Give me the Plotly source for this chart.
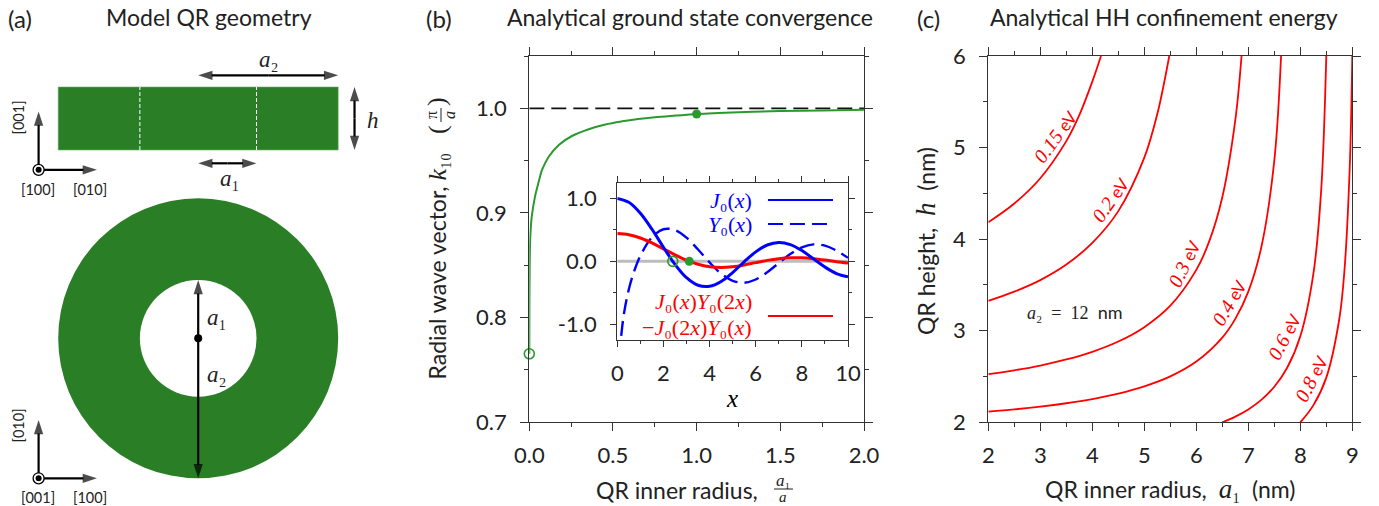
import plotly.graph_objects as go

W, H = 1379, 506
GREEN = "#2A7F26"
LINEGREEN = "#2A9A2E"
SANS = "Lato"
SERIF = "Liberation Serif"
INK = "#222222"

# ---- panel (a): model geometry (nm)
a1_nm = 5.0
a2_nm = 12.0
h_nm = 5.4
px_per_nm = 140.0 / a2_nm
ring_cx_px, ring_cy_px = 198.2, 338.3
side_cy_nm = 18.84  # height of cross-section centre above ring centre

# ---- panel (b): main curve
ratio_vals = [0, 0.0005, 0.002, 0.006, 0.0143, 0.034, 0.046, 0.064, 0.076, 0.116, 0.176, 0.255, 0.355, 0.454, 0.554,
              0.65, 0.75, 0.875, 1.0, 1.25, 1.5, 1.75, 2.0]
k10_vals = [0.7652, 0.80, 0.8425, 0.877, 0.896, 0.9155, 0.9235, 0.9346, 0.941, 0.9537, 0.965, 0.9735, 0.980, 0.9845, 0.9875,
            0.9897, 0.9914, 0.993, 0.9945, 0.9962, 0.9973, 0.998, 0.9985]
k_limit_x = [0, 2]
k_limit_y = [1, 1]
open_pt = (0.0, 0.7652)
filled_pt = (1.0, 0.9945)
b_xticks = [0, 0.5, 1.0, 1.5, 2.0]
b_xticklabels = ["0.0", "0.5", "1.0", "1.5", "2.0"]
b_yticks = [0.7, 0.8, 0.9, 1.0]
b_yticklabels = ["0.7", "0.8", "0.9", "1.0"]

# ---- panel (b) inset
x_half = [0, 0.5, 1, 1.5, 2, 2.5, 3, 3.5, 4, 4.5, 5, 5.5, 6, 6.5, 7, 7.5, 8, 8.5, 9, 9.5, 10]
j0_vals = [1, .9385, .7652, .5118, .2239, -.0484, -.2601, -.3801, -.3971, -.3205, -.1776, -.0068, .1506, .2601, .3001,
           .2663, .1717, .0419, -.0903, -.1939, -.2459]
x_y0 = [0.1, 0.15, 0.2, 0.3, 0.5, 0.75, 1, 1.5, 2, 2.5, 3, 3.5, 4, 4.5, 5, 5.5, 6, 6.5, 7, 7.5, 8, 8.5, 9, 9.5, 10]
y0_vals = [-1.534, -1.27, -1.081, -.807, -.4445, -.1372, .0883, .3824, .5104, .4981, .3769, .1890, -.0169, -.1947, -.3085,
           -.3395, -.2882, -.1732, -.0259, .1173, .2235, .2702, .2499, .1712, .0557]
cross_vals = [.4413, .4230, .3708, .2924, .1989, .1034, .0182, -.0469, -.0859, -.0977, -.0858, -.0570, -.0202, .0155,
              .0425, .0564, .0555, .0418, .0203, -.0046, -.0247]
inset_open = (2.405, 0.0)
inset_filled = (3.12, 0.0)
in_xticks = [0, 2, 4, 6, 8, 10]
in_yticks = [-1, 0, 1]
in_yticklabels = ["-1.0", "0.0", "1.0"]

# ---- panel (c): contours
e015_a = [2, 2.5, 3, 3.5, 3.75, 4, 4.167]
e015_h = [4.184, 4.389, 4.665, 5.070, 5.354, 5.720, 6.0]
e02_a = [2, 2.5, 3, 3.5, 4, 4.5, 5, 5.25, 5.48]
e02_h = [3.326, 3.427, 3.553, 3.723, 3.959, 4.306, 4.890, 5.366, 6.0]
e03_a = [2, 2.5, 3, 3.5, 4, 4.5, 5, 5.5, 6, 6.25, 6.5, 6.75, 6.87]
e03_h = [2.525, 2.568, 2.620, 2.686, 2.770, 2.882, 3.039, 3.273, 3.664, 3.978, 4.457, 5.299, 6.0]
e04_a = [2, 2.5, 3, 3.5, 4, 4.5, 5, 5.5, 6, 6.5, 6.75, 7, 7.25, 7.5, 7.63]
e04_h = [2.116, 2.141, 2.171, 2.208, 2.254, 2.313, 2.392, 2.501, 2.663, 2.925, 3.129, 3.427, 3.911, 4.857, 6.0]
e06_a = [6.5, 6.75, 7, 7.25, 7.5, 7.75, 8, 8.25, 8.4, 8.5]
e06_h = [2.0, 2.062, 2.141, 2.245, 2.388, 2.598, 2.939, 3.616, 4.519, 6.0]
e08_a = [8, 8.25, 8.5, 8.75, 8.85, 8.95, 9]
e08_h = [2.0, 2.185, 2.488, 3.128, 3.665, 4.774, 6.0]
c_xticks = [2, 3, 4, 5, 6, 7, 8, 9]
c_yticks = [2, 3, 4, 5, 6]


def dom(p0, p1, size):
    return [p0 / size, p1 / size]


def ydom(top, bottom):
    return [1 - bottom / H, 1 - top / H]


def math(s, size=None):
    fs = f";font-size:{size}px" if size else ""
    return f'<span style="font-family:{SERIF};font-style:italic{fs}">{s}</span>'


def serif(s, size=None):
    fs = f";font-size:{size}px" if size else ""
    return f'<span style="font-family:{SERIF}{fs}">{s}</span>'


annotations = []
shapes = []


def txt(text, px, py, size=23, color=INK, angle=0, xa="center", ya="middle"):
    annotations.append(dict(text=text, x=px / W, y=1 - py / H, xref="paper", yref="paper", showarrow=False,
                            font=dict(size=size, color=color, family=SANS), textangle=angle,
                            xanchor=xa, yanchor=ya, borderpad=0, borderwidth=0))


fig = go.Figure(layout=dict(template="none"))


def arrow(x0, y0, x1, y1, both=True):
    xm, ym = (x0 + x1) / 2, (y0 + y1) / 2
    ends = [(x1, y1), (x0, y0)] if both else [(x1, y1)]
    start = (xm, ym) if both else (x0, y0)
    for ex, ey in ends:
        fig.add_trace(go.Scatter(x=[start[0], ex], y=[start[1], ey], mode="lines+markers",
                                 line=dict(color="black", width=2.2),
                                 marker=dict(symbol="arrow", angleref="previous", size=[0, 15], color="black",
                                             line=dict(width=0)),
                                 xaxis="x4", yaxis="y4", showlegend=False, cliponaxis=False))


# panel b
axb = dict(showline=True, linecolor="#333", linewidth=1.3, mirror="ticks", ticks="outside", ticklen=8, tickwidth=1,
           tickcolor="#333", showgrid=False, zeroline=False, tickfont=dict(size=22, color=INK, family=SANS),
           automargin=False)
fig.add_trace(go.Scatter(x=k_limit_x, y=k_limit_y, mode="lines", line=dict(color="#111", width=1.8, dash="15px,7px"),
                         xaxis="x", yaxis="y", showlegend=False))
fig.add_trace(go.Scatter(x=ratio_vals, y=k10_vals, mode="lines", line=dict(color=LINEGREEN, width=2, shape="spline", smoothing=1),
                         xaxis="x", yaxis="y", showlegend=False))
fig.add_trace(go.Scatter(x=[open_pt[0]], y=[open_pt[1]], mode="markers", cliponaxis=False,
                         marker=dict(size=10, color="rgba(0,0,0,0)", line=dict(color=LINEGREEN, width=1.6)),
                         xaxis="x", yaxis="y", showlegend=False))
fig.add_trace(go.Scatter(x=[filled_pt[0]], y=[filled_pt[1]], mode="markers", marker=dict(size=9, color=LINEGREEN),
                         xaxis="x", yaxis="y", showlegend=False))

# inset
zero_x = [0, 10]
zero_y = [0, 0]
fig.add_trace(go.Scatter(x=zero_x, y=zero_y, mode="lines", line=dict(color="#BDBDBD", width=3),
                         xaxis="x2", yaxis="y2", showlegend=False))
fig.add_trace(go.Scatter(x=x_y0, y=y0_vals, mode="lines", line=dict(color="blue", width=2.4, dash="15px,7px", shape="spline"),
                         xaxis="x2", yaxis="y2", showlegend=False))
fig.add_trace(go.Scatter(x=x_half, y=cross_vals, mode="lines", line=dict(color="red", width=3, shape="spline"),
                         xaxis="x2", yaxis="y2", showlegend=False))
fig.add_trace(go.Scatter(x=x_half, y=j0_vals, mode="lines", line=dict(color="blue", width=3, shape="spline"),
                         xaxis="x2", yaxis="y2", showlegend=False))
fig.add_trace(go.Scatter(x=[inset_open[0]], y=[inset_open[1]], mode="markers",
                         marker=dict(size=10, color="rgba(0,0,0,0)", line=dict(color=LINEGREEN, width=1.6)),
                         xaxis="x2", yaxis="y2", showlegend=False))
fig.add_trace(go.Scatter(x=[inset_filled[0]], y=[inset_filled[1]], mode="markers", marker=dict(size=9, color=LINEGREEN),
                         xaxis="x2", yaxis="y2", showlegend=False))
legend_x = [6.53, 9.35]
fig.add_trace(go.Scatter(x=legend_x, y=[0.975, 0.975], mode="lines", line=dict(color="blue", width=2),
                         xaxis="x2", yaxis="y2", showlegend=False))
fig.add_trace(go.Scatter(x=legend_x, y=[0.594, 0.594], mode="lines", line=dict(color="blue", width=2, dash="15px,7px"),
                         xaxis="x2", yaxis="y2", showlegend=False))
fig.add_trace(go.Scatter(x=legend_x, y=[-0.87, -0.87], mode="lines", line=dict(color="red", width=2),
                         xaxis="x2", yaxis="y2", showlegend=False))

# panel c
for xs, ys in [(e015_a, e015_h), (e02_a, e02_h), (e03_a, e03_h), (e04_a, e04_h), (e06_a, e06_h), (e08_a, e08_h)]:
    fig.add_trace(go.Scatter(x=xs, y=ys, mode="lines", line=dict(color="red", width=1.8, shape="spline", smoothing=1),
                             xaxis="x3", yaxis="y3", showlegend=False))

# panel a: schematic in nm
xr = [(0 - ring_cx_px) / px_per_nm, (400 - ring_cx_px) / px_per_nm]
yr = [(ring_cy_px - 506) / px_per_nm, ring_cy_px / px_per_nm]
fig.add_trace(go.Scatter(x=[-a2_nm, a2_nm, a2_nm, -a2_nm, -a2_nm],
                         y=[side_cy_nm - h_nm / 2, side_cy_nm - h_nm / 2, side_cy_nm + h_nm / 2, side_cy_nm + h_nm / 2, side_cy_nm - h_nm / 2],
                         fill="toself", fillcolor=GREEN, mode="lines", line=dict(color="#6FA86C", width=0.6),
                         xaxis="x4", yaxis="y4", showlegend=False))
for xv in (-a1_nm, a1_nm):
    fig.add_trace(go.Scatter(x=[xv, xv], y=[side_cy_nm - h_nm / 2, side_cy_nm + h_nm / 2], mode="lines",
                             line=dict(color="white", width=1, dash="4px,2px"), xaxis="x4", yaxis="y4", showlegend=False))
shapes.append(dict(type="circle", xref="x4", yref="y4", x0=-a2_nm, x1=a2_nm, y0=-a2_nm, y1=a2_nm,
                   fillcolor=GREEN, line=dict(width=0), layer="below"))
shapes.append(dict(type="circle", xref="x4", yref="y4", x0=-a1_nm, x1=a1_nm, y0=-a1_nm, y1=a1_nm,
                   fillcolor="white", line=dict(width=0), layer="below"))

# arrows in the schematic
arrow(0, side_cy_nm + 3.7, a2_nm, side_cy_nm + 3.7)
arrow(0, side_cy_nm - 3.84, a1_nm, side_cy_nm - 3.84)
arrow(13.4, side_cy_nm - h_nm / 2, 13.4, side_cy_nm + h_nm / 2)
arrow(0, 0, 0, a1_nm, both=False)
arrow(0, 0, 0, -a2_nm, both=False)
fig.add_trace(go.Scatter(x=[0], y=[0], mode="markers", marker=dict(size=8, color="black"), xaxis="x4", yaxis="y4", showlegend=False))
tri_x0 = -13.68
for oy in (side_cy_nm - 4.4, -12.0):
    arrow(tri_x0, oy, tri_x0, oy + 5.0, both=False)
    arrow(tri_x0, oy, tri_x0 + 5.0, oy, both=False)
    fig.add_trace(go.Scatter(x=[tri_x0], y=[oy], mode="markers",
                             marker=dict(size=11, color="white", line=dict(color="black", width=1.3)),
                             xaxis="x4", yaxis="y4", showlegend=False))
    fig.add_trace(go.Scatter(x=[tri_x0], y=[oy], mode="markers", marker=dict(size=6, color="black"),
                             xaxis="x4", yaxis="y4", showlegend=False))

# text: panel a
txt("(a)", 20, 18, 24)
txt("Model QR geometry", 209, 17, 23)
txt(math("a") + serif("₂"), 269, 59, 23)
txt(math("h"), 373, 121, 23)
txt(math("a") + serif("₁"), 230, 179, 23)
txt(math("a") + serif("₁"), 217, 317, 23)
txt(math("a") + serif("₂"), 217, 374, 23)
txt("[001]", 17.5, 118, 14.5, angle=-90)
txt("[100]", 38, 189, 14.5)
txt("[010]", 90, 189, 14.5)
txt("[010]", 17.5, 426, 14.5, angle=-90)
txt("[001]", 38, 497, 14.5)
txt("[100]", 90, 497, 14.5)

# text: panel b
txt("(b)", 439, 18, 24)
txt("Analytical ground state convergence", 690, 17, 23)
txt("QR inner radius,", 758, 490, 23, xa="right")
txt(math("a") + serif("₁"), 783, 480, 17)
txt(math("a"), 783.5, 496.6, 15)
shapes.append(dict(type="line", xref="paper", yref="paper", x0=774 / W, x1=793 / W, y0=1 - 489 / H, y1=1 - 489 / H,
                   line=dict(color=INK, width=1)))
txt("Radial wave vector, " + math("k", 26) + serif("₁₀"), 437, 379, 23, angle=-90, ya="bottom")
txt(serif("("), 437, 129, 26, angle=-90)
txt(serif("π"), 431, 115, 16, angle=-90)
txt(math("a"), 449, 115, 16, angle=-90)
shapes.append(dict(type="line", xref="paper", yref="paper", x0=441 / W, x1=441 / W, y0=1 - 108 / H, y1=1 - 122 / H,
                   line=dict(color=INK, width=1)))
txt(serif(")"), 437, 101, 26, angle=-90)

# text: inset
txt(math("J") + serif("₀(") + math("x") + serif(")"), 752, 201, 22, color="blue", xa="right")
txt(math("Y") + serif("₀(") + math("x") + serif(")"), 752, 224, 22, color="blue", xa="right")
txt(math("J") + serif("₀(") + math("x") + serif(")") + math("Y") + serif("₀(2") + math("x") + serif(")"),
    752, 301, 22, color="red", xa="right")
txt(serif("−") + math("J") + serif("₀(2") + math("x") + serif(")") + math("Y") + serif("₀(") + math("x") + serif(")"),
    752, 327, 22, color="red", xa="right")
txt(math("x"), 732, 398, 25, color="black")

# text: panel c
txt("(c)", 928, 18, 24)
txt("Analytical HH confinement energy", 1164, 17, 23)
txt("QR inner radius,\u00a0\u00a0" + math("a", 27) + serif("₁") + "\u00a0\u00a0(nm)", 1170, 489, 23)
txt("QR height,\u00a0\u00a0" + math("h", 27) + "\u00a0\u00a0(nm)", 926, 241, 23, angle=-90)
txt(math("a") + serif("₂\u00a0\u00a0=\u00a0\u00a012") + "\u00a0\u00a0nm", 1075, 312, 18)
for label, px, py, ang in [("0.15", 1055, 137, -54), ("0.2", 1110, 200, -55), ("0.3", 1184, 264, -64),
                           ("0.4", 1229, 303, -60), ("0.6", 1284, 337, -62), ("0.8", 1311, 379, -63)]:
    txt(math(label, 20) + "\u00a0eV", px, py, 17, color="red", angle=ang)

minor_style = dict(ticks="outside", tickcolor="#333", tickwidth=1)
fig.update_layout(
    width=W, height=H, margin=dict(l=0, r=0, t=0, b=0), autosize=False,
    paper_bgcolor="white", plot_bgcolor="rgba(0,0,0,0)", showlegend=False,
    font=dict(family=SANS, color=INK),
    xaxis=dict(domain=dom(529.3, 864, W), range=[0, 2], tickvals=b_xticks, ticktext=b_xticklabels, anchor="y",
               ticklabelstandoff=5, minor=dict(dtick=0.25, tick0=0, ticklen=4, **minor_style), **axb),
    yaxis=dict(domain=ydom(56, 422), range=[0.7, 1.05], tickvals=b_yticks, ticktext=b_yticklabels, anchor="x",
               ticklabelstandoff=9, minor=dict(dtick=0.05, tick0=0.7, ticklen=4, **minor_style), **axb),
    xaxis2=dict(domain=dom(617.3, 848, W), range=[0, 10], tickvals=in_xticks, anchor="y2",
                ticklabelstandoff=7, minor=dict(dtick=1, tick0=0, ticklen=3, **minor_style), **{**axb, "ticklen": 6}),
    yaxis2=dict(domain=ydom(182.7, 340), range=[-1.25, 1.25], tickvals=in_yticks, ticktext=in_yticklabels, anchor="x2",
                ticklabelstandoff=9, minor=dict(dtick=0.5, tick0=0, ticklen=3, **minor_style), **{**axb, "ticklen": 6}),
    xaxis3=dict(domain=dom(988.3, 1352.3, W), range=[2, 9], tickvals=c_xticks, anchor="y3",
                ticklabelstandoff=5, minor=dict(dtick=0.5, tick0=2, ticklen=4, **minor_style), **axb),
    yaxis3=dict(domain=ydom(56, 422.3), range=[2, 6], tickvals=c_yticks, anchor="x3",
                ticklabelstandoff=9, minor=dict(dtick=0.5, tick0=2, ticklen=4, **minor_style), **axb),
    xaxis4=dict(domain=dom(0, 400, W), range=xr, visible=False, anchor="y4"),
    yaxis4=dict(domain=[0, 1], range=yr, visible=False, anchor="x4"),
    annotations=annotations, shapes=shapes,
)

fig.write_html("out.html", post_script="document.body.style.margin='0';", config={"displayModeBar": False})
